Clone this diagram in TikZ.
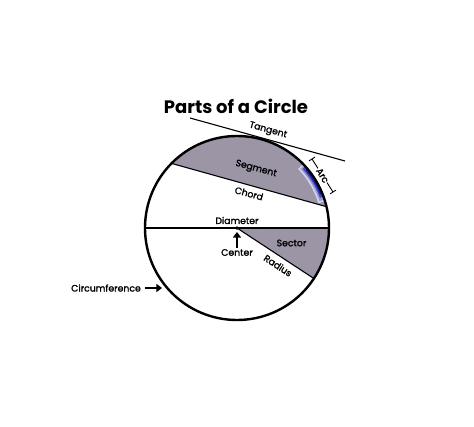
\documentclass[tikz,border=0pt]{standalone}
\usepackage{fontspec}
\setmainfont{Poppins}
\newfontfamily\lblfont[FakeBold=1.6]{Poppins}
\usetikzlibrary{arrows.meta,calc}
\definecolor{segfill}{HTML}{9C95A6}
\definecolor{arcblue}{HTML}{1A1FA8}
\tikzset{
  lbl/.style={font=\lblfont\fontsize{9.3}{11}\selectfont, inner sep=1pt},
  thinline/.style={line width=1.1pt, black},
  bigarrow/.style={line width=2.4pt, -{Triangle[length=5.5pt,width=8pt]}},
}
\begin{document}
\begin{tikzpicture}[x=1pt,y=1pt]
\useasboundingbox[fill=white] (-237,-198) rectangle (237,228);
% segment and sector fills
\fill[segfill] (135.4:92) arc[start angle=135.4, end angle=13.4, radius=92] -- cycle;
\fill[segfill] (0,0) -- (0:92) arc[start angle=0, end angle=-33.3, radius=92] -- cycle;
% arc highlight glow
\draw[arcblue!20, line width=8pt] (44:89) arc[start angle=44, end angle=17, radius=89];
\draw[arcblue!45, line width=5.5pt] (43:89.5) arc[start angle=43, end angle=18, radius=89.5];
\draw[arcblue!80, line width=3.5pt] (42:90) arc[start angle=42, end angle=20, radius=90];
\draw[arcblue, line width=2pt] (40:90.5) arc[start angle=40, end angle=22, radius=90.5];
% chord, diameter, radius
\coordinate (chA) at (135.4:92);
\coordinate (chB) at (13.4:92);
\draw[thinline] (chA) -- (chB);
\coordinate (dL) at (180:92);
\coordinate (dR) at (0:92);
\draw[thinline] (dL) -- (dR);
\coordinate (O) at (0,0);
\coordinate (rE) at (-33.3:92);
\draw[thinline] (O) -- (rE);
% circle
\node[circle, draw, line width=2.4pt, minimum size=184pt, inner sep=0pt] (circ) at (0,0) {};
\fill (O) circle (1.8pt);
% tangent
\coordinate (tA) at (-47,110);
\coordinate (tB) at (108,67);
\draw[thinline] (tA) -- (tB);
\node[lbl, rotate=-15.5] (tan) at (31,97.5) {Tangent};
% arc bracket
\coordinate (aA) at (75,69);
\coordinate (aB) at (96,36);
\draw[line width=0.9pt] (aA) -- (aB);
\draw[line width=0.9pt] ($(aA)!3.5pt!90:(aB)$) -- ($(aA)!3.5pt!-90:(aB)$);
\draw[line width=0.9pt] ($(aB)!3.5pt!90:(aA)$) -- ($(aB)!3.5pt!-90:(aA)$);
\node[lbl, fill=white, inner sep=0.6pt, rotate=-58] (arc) at (85.5,52.5) {Arc};
% labels
\node[lbl, rotate=-15] (seg) at (19,59) {Segment};
\node[lbl, rotate=-15] (chord) at (12,34.5) {Chord};
\node[lbl] (diam) at (0,7.5) {Diameter};
\node[lbl] (cen) at (0,-24.5) {Center};
\coordinate (cenTip) at (0,-4);
\draw[bigarrow] (cen.north) -- (cenTip);
\node[lbl] (sec) at (54.5,-15) {Sector};
\node[lbl, rotate=-33.3] (rad) at (41,-37.5) {Radius};
\node[lbl] (circum) at (-131,-60) {Circumference};
\coordinate (cTip) at (-75,-60);
\draw[bigarrow] ([xshift=3pt]circum.east) -- (cTip);
% title
\node[font=\fontsize{18}{21}\selectfont\bfseries] (title) at (-1,122) {Parts of a Circle};
\end{tikzpicture}
\end{document}
